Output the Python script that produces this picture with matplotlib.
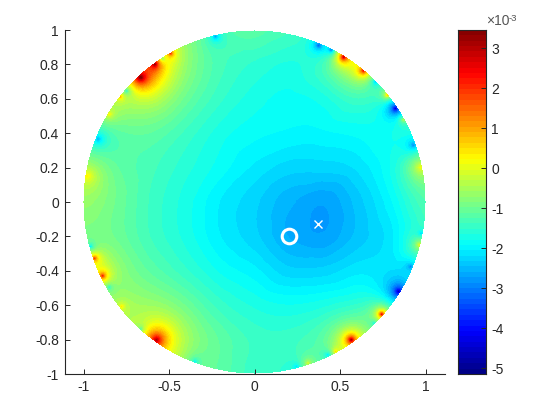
import numpy as np
import matplotlib
matplotlib.use("Agg")
import matplotlib.pyplot as plt
from matplotlib.colors import ListedColormap, BoundaryNorm
from matplotlib.tri import Triangulation, CubicTriInterpolator

# Smooth background, read at a regular grid (units of 1e-3)
grid_x = [-1.2, -1.0, -0.8, -0.6, -0.4, -0.2, 0.0, 0.2, 0.4, 0.6, 0.8, 1.0, 1.2]
grid_y = [1.2, 1.0, 0.8, 0.6, 0.4, 0.2, 0.0, -0.2, -0.4, -0.6, -0.8, -1.0, -1.2]
grid_values = [
    [-1.0, -1.0, -1.0, -1.1, -1.2, -1.25, -1.35, -1.45, -1.45, -1.4, -1.4, -1.4, -1.4],
    [-1.1, -1.1, -1.1, -1.1, -1.2, -1.25, -1.3, -1.45, -1.45, -1.4, -1.4, -1.4, -1.4],
    [-1.2, -1.2, -1.15, -1.1, -1.35, -1.55, -1.7, -1.8, -1.65, -1.45, -1.5, -1.4, -1.4],
    [-1.3, -1.3, -1.3, -1.3, -1.55, -1.75, -1.9, -2.0, -1.95, -1.7, -1.6, -1.45, -1.45],
    [-1.4, -1.4, -1.5, -1.55, -1.75, -1.95, -2.05, -2.1, -2.1, -2.0, -1.75, -1.45, -1.45],
    [-1.3, -1.3, -1.5, -1.65, -1.85, -2.05, -2.25, -2.4, -2.4, -2.3, -2.0, -1.4, -1.2],
    [-1.1, -1.15, -1.4, -1.7, -1.95, -2.25, -2.45, -2.7, -2.85, -2.55, -2.15, -1.55, -1.45],
    [-1.15, -1.2, -1.4, -1.7, -1.95, -2.25, -2.45, -2.75, -2.85, -2.55, -2.25, -1.6, -1.45],
    [-1.2, -1.2, -1.3, -1.55, -1.8, -2.05, -2.2, -2.45, -2.45, -2.25, -2.05, -1.6, -1.55],
    [-1.2, -1.2, -1.2, -1.3, -1.5, -1.75, -1.9, -2.0, -2.0, -1.95, -1.9, -1.6, -1.55],
    [-1.1, -1.1, -1.1, -1.15, -1.25, -1.45, -1.65, -1.7, -1.65, -1.55, -1.55, -1.55, -1.55],
    [-1.1, -1.1, -1.1, -1.15, -1.2, -1.4, -1.65, -1.7, -1.55, -1.45, -1.45, -1.45, -1.45],
    [-1.1, -1.1, -1.1, -1.1, -1.2, -1.45, -1.6, -1.6, -1.55, -1.45, -1.45, -1.45, -1.45],
]

# Hot and cold spots along the rim
spot_x = [-0.666, -0.583, -0.490, -0.538, -0.228, -0.748, -0.783, -0.850, -0.914, -0.978,
          0.375, 0.449, 0.521, 0.637, 0.708, 0.776, 0.824, 0.871, 0.929, 0.970,
          -0.958, -0.935, -0.888, -0.849, -0.777, -0.664, -0.573, -0.349,
          0.974, 0.964, 0.912, 0.842, 0.744, 0.700, 0.566, 0.474, 0.429, 0.312, 0.245]
spot_y = [0.725, 0.803, 0.866, 0.835, 0.964, 0.647, 0.612, 0.510, 0.365, 0.150,
          0.913, 0.886, 0.845, 0.764, 0.700, 0.622, 0.544, 0.478, 0.330, 0.200,
          -0.258, -0.326, -0.429, -0.495, -0.608, -0.740, -0.803, -0.929,
          -0.180, -0.248, -0.375, -0.520, -0.653, -0.705, -0.803, -0.871, -0.890, -0.939, -0.958]
spot_peak = [3.4, 2.6, 1.5, -3.0, -3.0, -3.2, 0.5, 0.0, -3.1, 0.3,
             -3.6, -3.8, 3.2, 2.3, -3.2, 1.3, -5.0, 0.3, -3.3, 0.3,
             -2.8, 1.8, 2.1, -2.5, 0.0, -2.6, 3.3, -2.5,
             -2.8, 0.2, -3.0, -5.1, 2.9, -2.9, 3.3, 0.1, -3.0, -0.1, -2.6]
spot_size = [0.11, 0.065, 0.035, 0.035, 0.05, 0.055, 0.035, 0.05, 0.085, 0.14,
             0.055, 0.036, 0.06, 0.06, 0.04, 0.035, 0.07, 0.035, 0.07, 0.13,
             0.036, 0.04, 0.048, 0.036, 0.035, 0.036, 0.12, 0.036,
             0.03, 0.06, 0.045, 0.07, 0.05, 0.036, 0.065, 0.04, 0.045, 0.045, 0.036]

max_x, max_y = 0.371, -0.127
source_x, source_y = 0.2, -0.2
c_ticks = [-5, -4, -3, -2, -1, 0, 1, 2, 3]
v_min, v_max = -5.14, 3.46

plt.rcParams["font.family"] = ["Liberation Sans", "DejaVu Sans"]
INK = "#262626"
W, H = 560, 420
fig = plt.figure(figsize=(W / 100, H / 100), dpi=100)
ax = fig.add_axes([64.5 / W, 1 - 374 / H, (445 - 64.5) / W, 344 / H])
cax = fig.add_axes([457.5 / W, 1 - 374 / H, 28 / W, 344 / H])

gx, gy = np.meshgrid(grid_x, grid_y)
tri = Triangulation(gx.ravel(), gy.ravel())
bg = CubicTriInterpolator(tri, np.array(grid_values).ravel(), kind="geom")

n = 343
xs = np.linspace(-1, 1, n)
X, Y = np.meshgrid(xs, xs)
field = np.asarray(bg(X, Y).filled(-1.0))
for sx, sy, pk, w in zip(spot_x, spot_y, spot_peak, spot_size):
    base = float(bg(np.array([sx]), np.array([sy])).filled(-1.0)[0])
    d = np.hypot(X - sx, Y - sy)
    field += (pk - base) / (1 + d / w) ** 2
field = np.ma.masked_where(X ** 2 + Y ** 2 > 1, field)

# MATLAB's 64-step jet
t = (np.arange(64) + 0.5) / 64
jet_rgb = np.clip(np.column_stack([
    np.minimum(4 * t - 1.5, -4 * t + 4.5),
    np.minimum(4 * t - 0.5, -4 * t + 3.5),
    np.minimum(4 * t + 0.5, -4 * t + 2.5)]), 0, 1)
cmap = ListedColormap(jet_rgb)
bounds = np.linspace(v_min, v_max, 65)
norm = BoundaryNorm(bounds, 64)
ax.pcolormesh(X, Y, field, cmap=cmap, norm=norm, shading="nearest", rasterized=True)
ax.plot([source_x], [source_y], "o", ms=10.5, mfc="none", mec="white", mew=2.2)
ax.plot([max_x], [max_y], "x", ms=5.5, color="white", mew=1.0)

ax.set_xlim(-1.111, 1.111)
ax.set_ylim(-1, 1)
for s in ("top", "right"):
    ax.spines[s].set_visible(False)
for s in ("left", "bottom"):
    ax.spines[s].set_color(INK)
    ax.spines[s].set_linewidth(0.8)
ax.set_xticks([-1, -0.5, 0, 0.5, 1], ["-1", "-0.5", "0", "0.5", "1"])
ax.set_yticks(np.arange(-1, 1.01, 0.2),
              ["-1", "-0.8", "-0.6", "-0.4", "-0.2", "0", "0.2", "0.4", "0.6", "0.8", "1"])
ax.tick_params(direction="in", length=3.5, width=0.7, color=INK, labelcolor=INK, labelsize=10, pad=4)

cax.imshow(np.linspace(v_max, v_min, 64)[:, None], aspect="auto", cmap=cmap,
           vmin=v_min, vmax=v_max, extent=[0, 1, v_min, v_max], interpolation="nearest")
cax.set_xticks([])
cax.yaxis.tick_right()
cax.set_yticks(c_ticks, [str(t) for t in c_ticks])
cax.tick_params(direction="in", length=3.5, width=0.7, color=INK, labelcolor=INK, labelsize=10, pad=4)
for s in cax.spines.values():
    s.set_color(INK)
    s.set_linewidth(0.8)

fig.text(486 / W, 1 - 25 / H, "×10", fontsize=10, color="#555555")
fig.text(508.5 / W, 1 - 21 / H, "-3", fontsize=6.8, color="#555555")
fig.savefig("out.png", dpi=100)
